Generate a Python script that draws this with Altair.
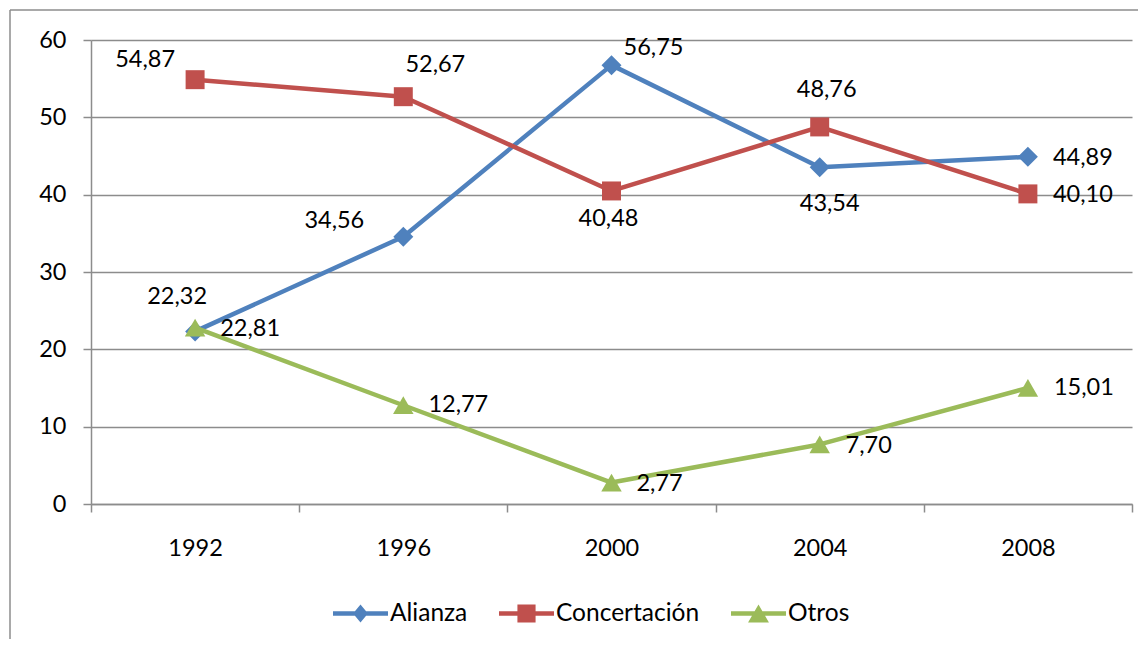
import altair as alt
import pandas as pd

years = ["1992", "1996", "2000", "2004", "2008"]
series = ["Alianza", "Concertación", "Otros"]
alianza = [22.32, 34.56, 56.75, 43.54, 44.89]
concertacion = [54.87, 52.67, 40.48, 48.76, 40.10]
otros = [22.81, 12.77, 2.77, 7.70, 15.01]
y_ticks = [0, 10, 20, 30, 40, 50, 60]

colors = ["#4F81BD", "#C0504D", "#9BBB59"]
GRAY = "#8c8c8c"
FONT = "Lato"
FS = 23.5

# label nudges in pixels relative to each point (dx, dy)
label_nudge = {
    "Alianza": [(-18, -34), (-69, -16), (42, -17), (10, 37), (55, 1)],
    "Concertación": [(-50, -20), (32, -32), (-3, 28), (7, -37), (55, 1)],
    "Otros": [(55, 1), (55, 0), (48, 1), (49, 2), (56, 0)],
}

values = {"Alianza": alianza, "Concertación": concertacion, "Otros": otros}
rows = []
for s in series:
    for yr, v in zip(years, values[s]):
        rows.append({"year": yr, "series": s, "value": v,
                     "label": f"{v:.2f}".replace(".", ",")})
df = pd.DataFrame(rows)

W, H = 1041, 464
PAD = {"left": 83, "top": 32, "right": 6, "bottom": 135}

x_enc = alt.X(
    "year:O",
    scale=alt.Scale(type="band", domain=years, paddingInner=0, paddingOuter=0),
    axis=alt.Axis(title=None, labelAngle=0, tickBand="extent", ticks=True, tickSize=8,
                  tickColor=GRAY, tickWidth=1.5, domainColor=GRAY, domainWidth=1.5,
                  labelPadding=24, labelFont=FONT, labelFontSize=FS, labelColor="black",
                  grid=False),
)
y_enc = alt.Y(
    "value:Q",
    scale=alt.Scale(domain=[0, 60], nice=False),
    axis=alt.Axis(title=None, values=y_ticks, grid=True, gridColor=GRAY, gridWidth=1.5,
                  tickSize=8, tickColor=GRAY, tickWidth=1.5, domainColor=GRAY, domainWidth=1.5,
                  labelPadding=17, labelFont=FONT, labelFontSize=FS, labelColor="black"),
)

marker_shapes = {"Alianza": "diamond", "Concertación": "square", "Otros": "triangle-up"}
marker_sizes = {"Alianza": 400, "Concertación": 360, "Otros": 420}

base = alt.Chart(df)
layers = []

# decorative outer chart frame
frame_df = pd.DataFrame({"a": [0]})
layers.append(alt.Chart(frame_df).mark_rule(color=GRAY, strokeWidth=1.5).encode(
    x=alt.value(-81), x2=alt.value(W + PAD["right"]), y=alt.value(-30)))
layers.append(alt.Chart(frame_df).mark_rule(color=GRAY, strokeWidth=1.5).encode(
    x=alt.value(-81), y=alt.value(-30), y2=alt.value(H + PAD["bottom"])))

for s, c in zip(series, colors):
    sub = base.transform_filter(alt.datum.series == s)
    layers.append(sub.mark_line(color=c, strokeWidth=4.5, strokeJoin="round").encode(x=x_enc, y=y_enc))
    layers.append(sub.mark_point(shape=marker_shapes[s], filled=True, opacity=1,
                                 size=marker_sizes[s], color=c).encode(x=x_enc, y=y_enc))

for s in series:
    for yr, (dx, dy) in zip(years, label_nudge[s]):
        layers.append(
            base.transform_filter((alt.datum.series == s) & (alt.datum.year == yr))
            .mark_text(dx=dx, dy=dy, align="center", baseline="middle", font=FONT,
                       fontSize=FS, color="black")
            .encode(x=x_enc, y=y_enc, text="label:N")
        )

# legend symbols: line segment with the series marker
line_p = "M-1,-0.08L1,-0.08L1,0.08L-1,0.08Z"
legend_paths = [
    line_p + "M0,-0.33L0.27,0L0,0.33L-0.27,0Z",
    line_p + "M-0.33,-0.33L0.33,-0.33L0.33,0.33L-0.33,0.33Z",
    line_p + "M0,-0.33L0.38,0.33L-0.38,0.33Z",
]
leg = alt.Legend(title=None, orient="none", legendX=242, legendY=546, direction="horizontal",
                 symbolSize=3025, symbolStrokeWidth=0, symbolOpacity=1, labelFont=FONT,
                 labelFontSize=24.5, labelColor="black", labelOffset=2, columnPadding=31,
                 padding=0)
layers.append(
    base.transform_filter("false").mark_point(filled=True, opacity=1).encode(
        x=x_enc, y=y_enc,
        color=alt.Color("series:N", scale=alt.Scale(domain=series, range=colors), legend=leg),
        shape=alt.Shape("series:N", scale=alt.Scale(domain=series, range=legend_paths), legend=leg),
    )
)

chart = alt.layer(*layers).properties(
    width=W, height=H, padding=PAD, autosize=alt.AutoSizeParams(type="none"),
    background="white",
).configure_view(stroke=None)

chart.save("out.html", embed_options={"renderer": "svg", "actions": False})
